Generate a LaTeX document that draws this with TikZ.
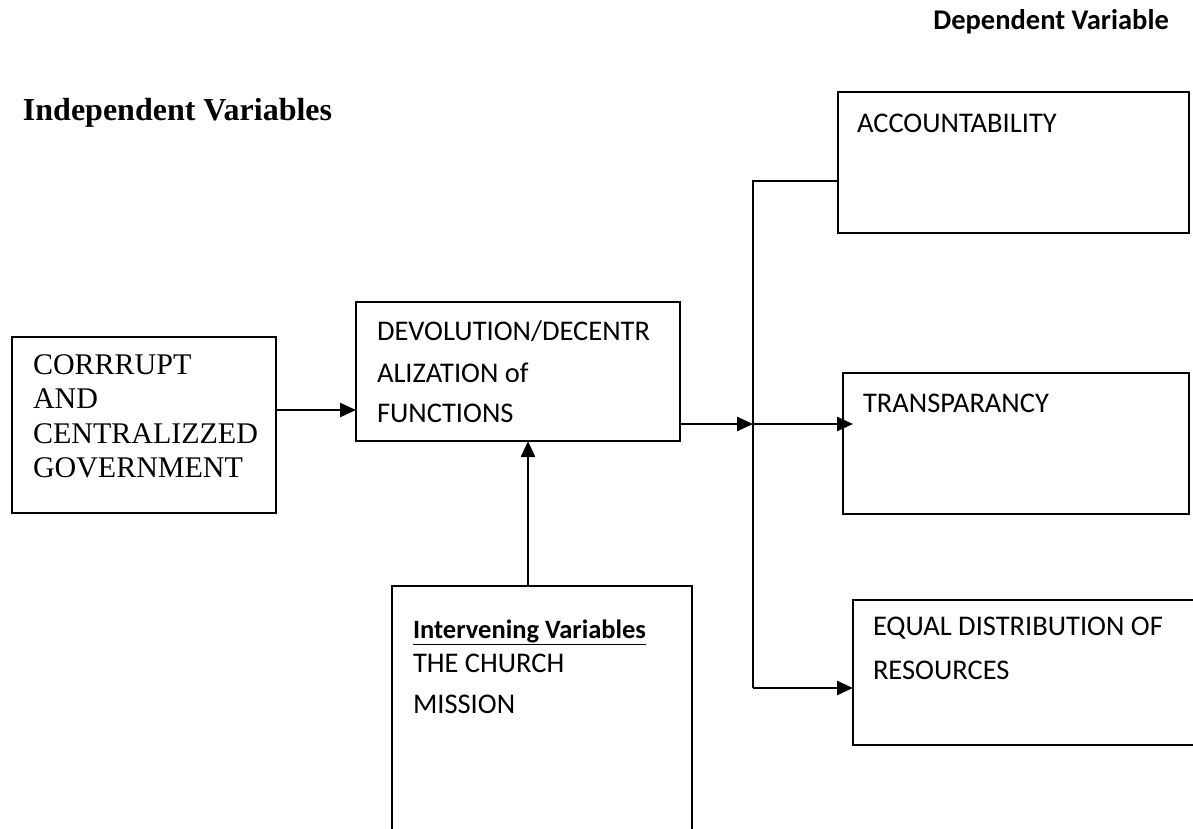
\documentclass[tikz,border=0pt]{standalone}
\usepackage{fontspec}
\setmainfont{Liberation Serif}
\newfontfamily\calfont{Carlito}
\usetikzlibrary{arrows.meta}
\tikzset{
  boxshape/.style={rectangle, inner sep=0pt, outer sep=0pt, anchor=north west},
  boxline/.style={draw=black, line width=2.5pt},
  conn/.style={draw=black, line width=2.5pt},
  arr/.style={conn, -{Triangle[length=16pt,width=14pt]}},
  txt/.style={anchor=base west, inner sep=0pt, outer sep=0pt},
  cal/.style={font=\calfont\fontsize{28.5}{30}\selectfont},
  tms/.style={font=\fontsize{30}{32}\selectfont},
}
\begin{document}
\begin{tikzpicture}[x=1pt, y=-1pt]
\useasboundingbox[fill=white] (0,0) rectangle (1193,828);

% headings
\node[anchor=base east, inner sep=0pt, font=\calfont\bfseries\fontsize{28.5}{30}\selectfont] (dep) at (1169,29) {Dependent Variable};
\node[txt, font=\bfseries\fontsize{32}{34}\selectfont] (indep) at (23,120) {Independent Variables};

% boxes
\node[boxshape, boxline, minimum width=264pt, minimum height=176pt] (A) at (12,337) {};
\node[boxshape, boxline, minimum width=324pt, minimum height=139pt] (B) at (356,302) {};
\node[boxshape, boxline, minimum width=351pt, minimum height=141pt] (acc) at (838,92) {};
\node[boxshape, boxline, minimum width=346pt, minimum height=141pt] (T) at (843,373) {};
\node[boxshape, minimum width=345pt, minimum height=145pt] (E) at (853,600) {};
\node[boxshape, minimum width=300pt, minimum height=245pt] (I) at (392,586) {};
\draw[boxline] (E.north east) -- (E.north west) -- (E.south west) -- (E.south east);
\draw[boxline] (I.south west) -- (I.north west) -- (I.north east) -- (I.south east);

% texts
\node[txt, tms] (a1) at (33,374) {CORRRUPT};
\node[txt, tms] (a2) at (33,408) {AND};
\node[txt, tms] (a3) at (33,443) {CENTRALIZZED};
\node[txt, tms] (a4) at (33,477) {GOVERNMENT};

\node[txt, cal] (b1) at (377,340) {DEVOLUTION/DECENTR};
\node[txt, cal] (b2) at (377,382) {ALIZATION of};
\node[txt, cal] (b3) at (377,422) {FUNCTIONS};

\node[txt, cal] (acct) at (857,132) {ACCOUNTABILITY};
\node[txt, cal] (trt) at (863,412) {TRANSPARANCY};
\node[txt, cal] (e1) at (873,635) {EQUAL DISTRIBUTION OF};
\node[txt, cal] (e2) at (873,679) {RESOURCES};

\node[txt, font=\calfont\bfseries\fontsize{26.5}{28}\selectfont] (i0) at (413,638) {\underline{Intervening Variables}};
\node[txt, cal] (i1) at (413,672) {THE CHURCH};
\node[txt, cal] (i2) at (413,713) {MISSION};

% connectors
\coordinate (j) at (753,424);
\coordinate (vt) at (753,181);
\coordinate (vb) at (753,688);
\coordinate (iv) at (528,586);

\draw[arr] ([yshift=15pt]A.east) -- ([yshift=15pt]A.east -| B.west);
\draw[arr] ([yshift=-52.5pt]B.east) -- (j);
\draw[arr] (j) -- ([xshift=10pt]j -| T.west);
\draw[conn] (acc.west |- vt) -- (vt) -- (vb);
\draw[arr] (vb) -- (vb -| E.west);
\draw[arr] (iv) -- (iv |- B.south);
\end{tikzpicture}
\end{document}
